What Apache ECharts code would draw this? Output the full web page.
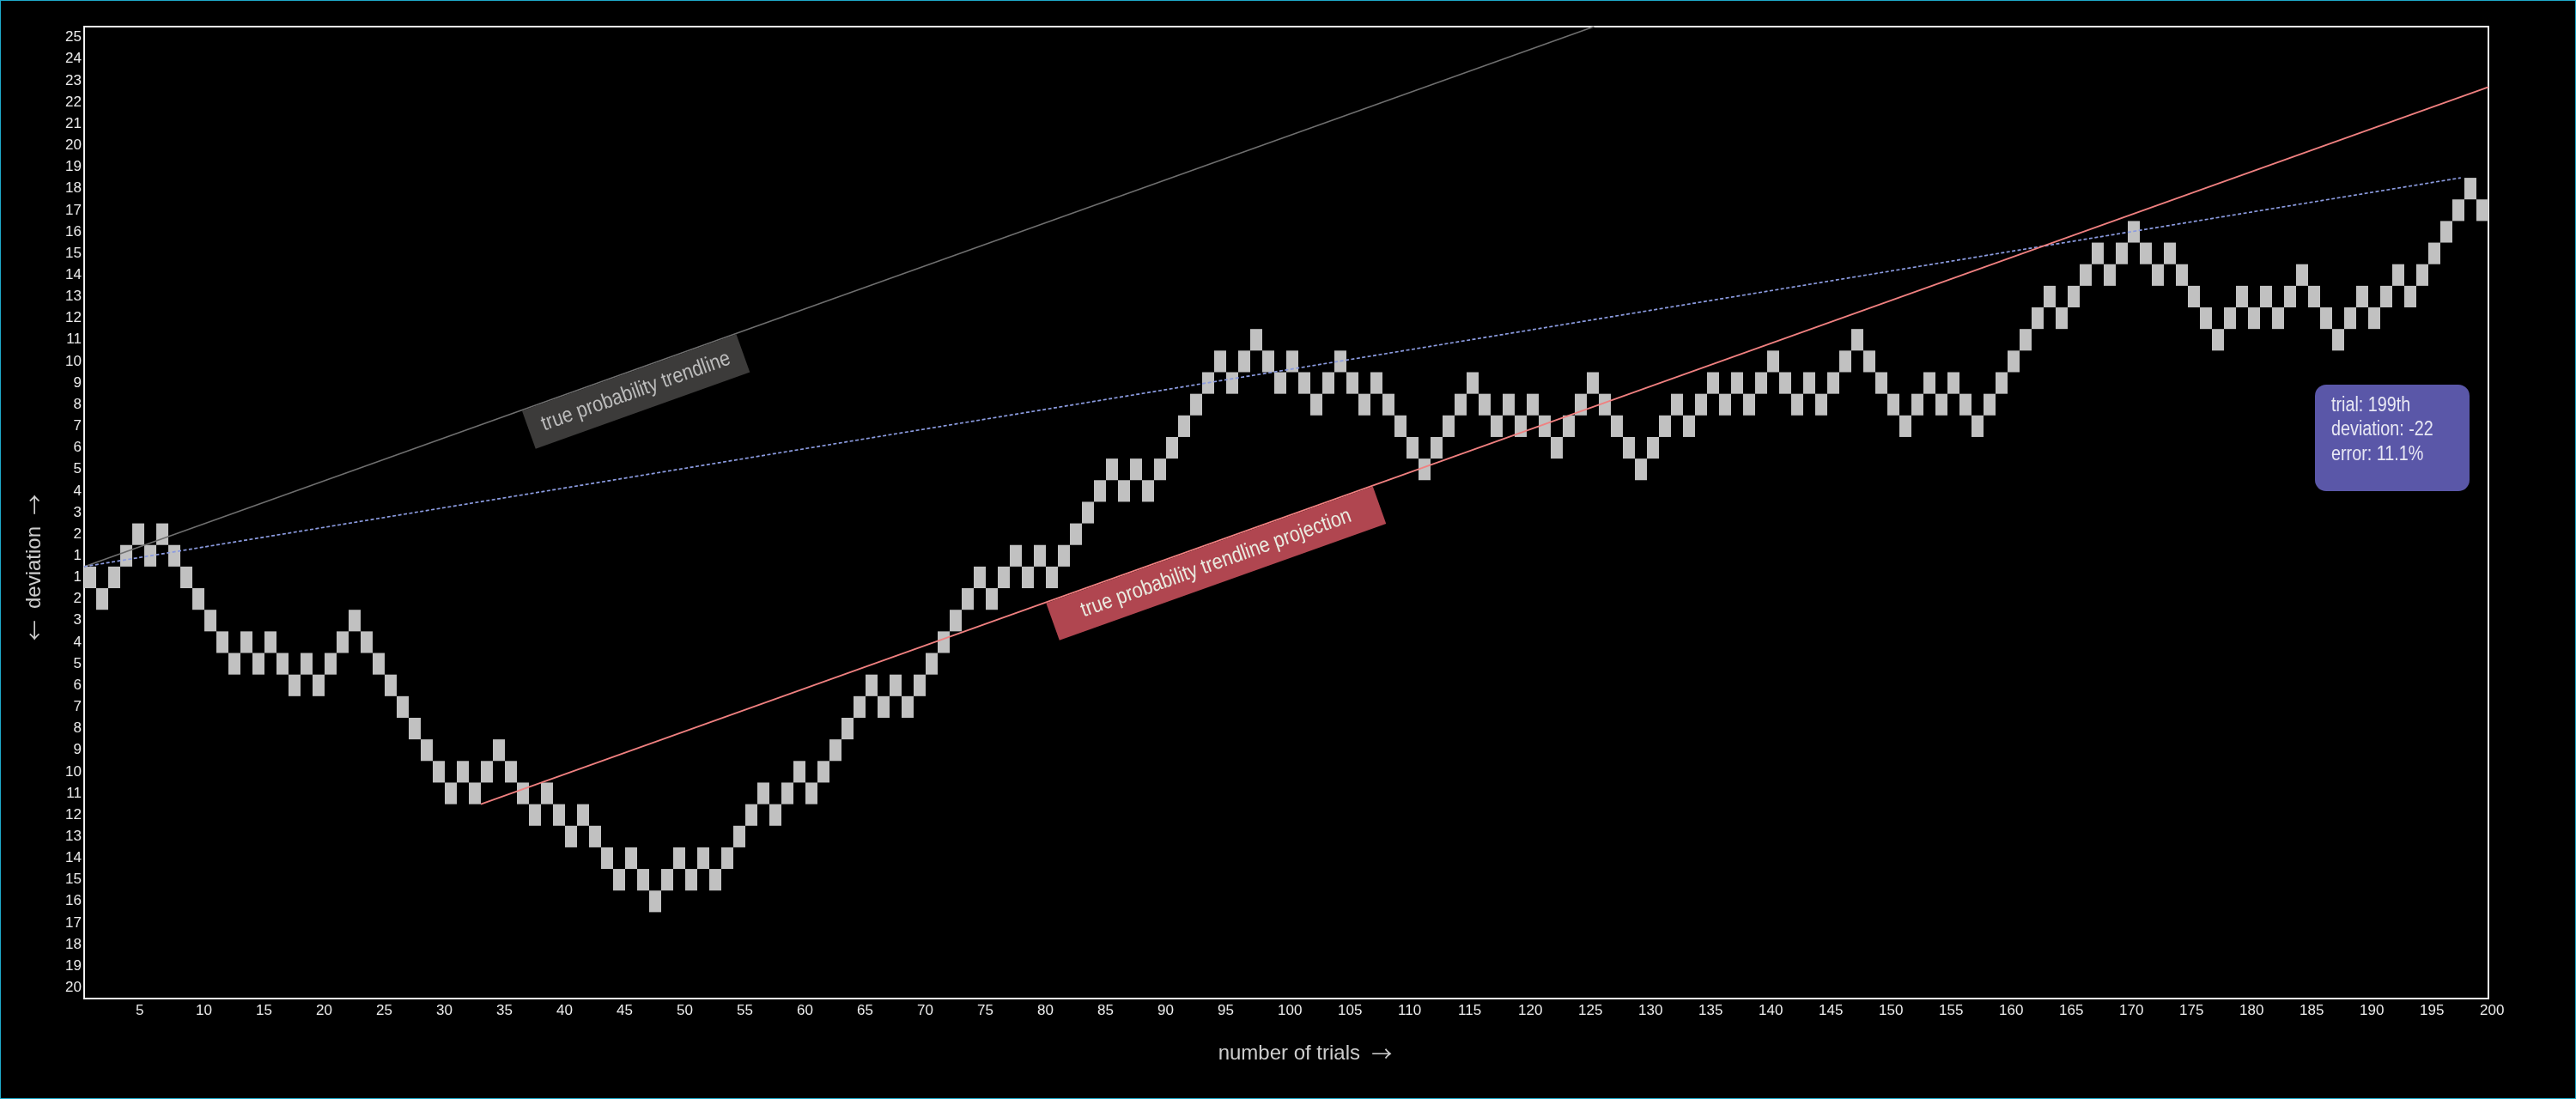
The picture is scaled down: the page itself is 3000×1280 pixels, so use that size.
<!DOCTYPE html>
<html><head><meta charset="utf-8">
<script src="https://cdn.jsdelivr.net/npm/echarts@6/dist/echarts.min.js"></script>
<style>
html,body{margin:0;padding:0;background:#000;}
#wrap{position:relative;width:3000px;height:1280px;}
#chart{position:absolute;left:0;top:0;width:3000px;height:1280px;}
#frame{position:absolute;left:0;top:0;width:3000px;height:1280px;box-sizing:border-box;border:1px solid #1fa9c9;pointer-events:none;}
</style></head><body>
<div id="wrap"><div id="chart"></div><div id="frame"></div></div>
<script>
// deviation row of each trial (1..200); no zero row
const walk = [
 -1,-2,-1,1,2,1,2,1,-1,-2,
 -3,-4,-5,-4,-5,-4,-5,-6,-5,-6,
 -5,-4,-3,-4,-5,-6,-7,-8,-9,-10,
 -11,-10,-11,-10,-9,-10,-11,-12,-11,-12,
 -13,-12,-13,-14,-15,-14,-15,-16,-15,-14,
 -15,-14,-15,-14,-13,-12,-11,-12,-11,-10,
 -11,-10,-9,-8,-7,-6,-7,-6,-7,-6,
 -5,-4,-3,-2,-1,-2,-1,1,-1,1,
 -1,1,2,3,4,5,4,5,4,5,
 6,7,8,9,10,9,10,11,10,9,
 10,9,8,9,10,9,8,9,8,7,
 6,5,6,7,8,9,8,7,8,7,
 8,7,6,7,8,9,8,7,6,5,
 6,7,8,7,8,9,8,9,8,9,
 10,9,8,9,8,9,10,11,10,9,
 8,7,8,9,8,9,8,7,8,9,
 10,11,12,13,12,13,14,15,14,15,
 16,15,14,15,14,13,12,11,12,13,
 12,13,12,13,14,13,12,11,12,13,
 12,13,14,13,14,15,16,17,18,17
];
// y tick labels, bottom to top (one per row)
const yTickLabels = ['20','19','18','17','16','15','14','13','12','11','10','9','8','7','6','5','4','3','2','1',
  '1','2','3','4','5','6','7','8','9','10','11','12','13','14','15','16','17','18','19','20','21','22','23','24','25'];
// trend lines [trial, deviation]
const fairTrend = [[0,0],[125.6,25]];
const observedTrend = [[0,0],[197.7,18.0]];
const projectionTrend = [[33,-11],[200,22.2]];
const labelTexts = ['true probability trendline','true probability trendline projection'];
const labelStartTrial = [36.4, 80];
const tooltipLines = ['trial: 199th','deviation: -22','error: 11.1%'];

const SANS = "'Liberation Sans',Arial,sans-serif";
const ARROW_FONT = "'Noto Sans CJK JP','Noto Sans CJK SC','DejaVu Sans',sans-serif";

const chart = echarts.init(document.getElementById('chart'), null, {renderer:'canvas'});

const annotations = [
  {text: labelTexts[0], line: fairTrend, at: labelStartTrial[0], width: 265, height: 47, fill: '#3c3b3a', color: '#bcbcbc'},
  {text: labelTexts[1], line: projectionTrend, at: labelStartTrial[1], width: 404, height: 46, fill: '#b04650', color: '#e9ebe0'}
];

const nameRich = {
  t: {color: '#cdcdcd', fontSize: 24, fontFamily: SANS},
  a: {color: '#cdcdcd', fontSize: 24, fontFamily: ARROW_FONT}
};

const option = {
  backgroundColor: '#000',
  animation: false,
  grid: {left: 98, right: 102, top: 31, bottom: 117, show: true, borderColor: '#f2f2f2', borderWidth: 2, backgroundColor: 'transparent'},
  xAxis: [{
    type: 'value', min: 0, max: 200, interval: 5,
    axisLine: {show: false}, axisTick: {show: false}, splitLine: {show: false},
    axisLabel: {color: '#ececec', fontSize: 17, fontFamily: SANS, margin: 6, align: 'left', padding: [0,0,0,-10],
      formatter: v => v === 0 ? '' : String(v)},
    name: '{t|number of trials}  {a|\u2192}', nameLocation: 'middle', nameGap: 52,
    nameTextStyle: {color: '#cdcdcd', fontSize: 24, fontFamily: SANS, padding: [0,0,0,44], rich: nameRich}
  }],
  yAxis: [{
    type: 'value', min: -20, max: 25,
    axisLine: {show: false}, axisTick: {show: false}, splitLine: {show: false}, axisLabel: {show: false},
    name: '{a|\u2190}  {t|deviation}  {a|\u2192}', nameLocation: 'middle', nameRotate: 90, nameGap: 46,
    nameTextStyle: {color: '#cdcdcd', fontSize: 24, fontFamily: SANS, padding: [0,128,0,0], rich: nameRich}
  }, {
    type: 'category', data: yTickLabels, position: 'left', boundaryGap: true,
    axisLine: {show: false}, axisTick: {show: false}, splitLine: {show: false},
    axisLabel: {color: '#ececec', fontSize: 17, fontFamily: SANS, margin: 3, interval: 0}
  }],
  series: [
    {
      type: 'custom', name: 'walk', xAxisIndex: 0, yAxisIndex: 0, z: 1,
      data: walk.map((d, i) => [i + 1, d]),
      renderItem(params, api) {
        const t = api.value(0), d = api.value(1);
        const yTop = d > 0 ? d : d + 1, yBot = d > 0 ? d - 1 : d;
        const a = api.coord([t - 1, yTop]), b = api.coord([t, yBot]);
        return {type: 'rect', shape: {x: a[0], y: a[1], width: b[0] - a[0], height: b[1] - a[1]},
          style: {fill: '#c1c1c1'}};
      }
    },
    {type: 'line', data: fairTrend, symbol: 'none', z: 3, silent: true,
      lineStyle: {color: '#6f6f6f', width: 1.6}},
    {type: 'line', data: observedTrend, symbol: 'none', z: 3, silent: true,
      lineStyle: {color: '#8b9be0', width: 1.7, type: [4, 2.5]}},
    {type: 'line', data: projectionTrend, symbol: 'none', z: 3, silent: true,
      lineStyle: {color: '#f08080', width: 1.8}},
    {
      type: 'custom', name: 'labels', z: 5, silent: true, clip: false,
      data: annotations.map((a, i) => [a.at, i]),
      renderItem(params, api) {
        const an = annotations[params.dataIndex];
        const [p, q] = an.line;
        const k = (q[1] - p[1]) / (q[0] - p[0]);
        const y0 = p[1] + (an.at - p[0]) * k;
        const c0 = api.coord([an.at, y0]);
        const c1 = api.coord([an.at + 10, y0 + 10 * k]);
        const ang = Math.atan2(c1[1] - c0[1], c1[0] - c0[0]);
        return {
          type: 'group', x: c0[0], y: c0[1], rotation: -ang,
          children: [
            {type: 'rect', shape: {x: 0, y: 1, width: an.width, height: an.height}, style: {fill: an.fill}},
            {type: 'text', x: an.width / 2, y: 1 + an.height / 2, scaleX: 0.87,
              style: {text: an.text, x: 0, y: 0, align: 'center', verticalAlign: 'middle',
              fill: an.color, font: "25px " + SANS}}
          ]
        };
      }
    }
  ],
  graphic: [{
    type: 'group', left: 2696, top: 448, z: 10,
    children: [
      {type: 'rect', shape: {x: 0, y: 0, width: 180, height: 124, r: 13}, style: {fill: '#5a57a8'}},
      {type: 'text', x: 19, y: 25, scaleX: 0.86, style: {text: tooltipLines[0], x: 0, y: 0, verticalAlign: 'middle', fill: '#e8e8f4', font: "23px " + SANS}},
      {type: 'text', x: 19, y: 53, scaleX: 0.86, style: {text: tooltipLines[1], x: 0, y: 0, verticalAlign: 'middle', fill: '#e8e8f4', font: "23px " + SANS}},
      {type: 'text', x: 19, y: 82, scaleX: 0.86, style: {text: tooltipLines[2], x: 0, y: 0, verticalAlign: 'middle', fill: '#e8e8f4', font: "23px " + SANS}}
    ]
  }]
};
chart.setOption(option);
</script>
</body></html>
